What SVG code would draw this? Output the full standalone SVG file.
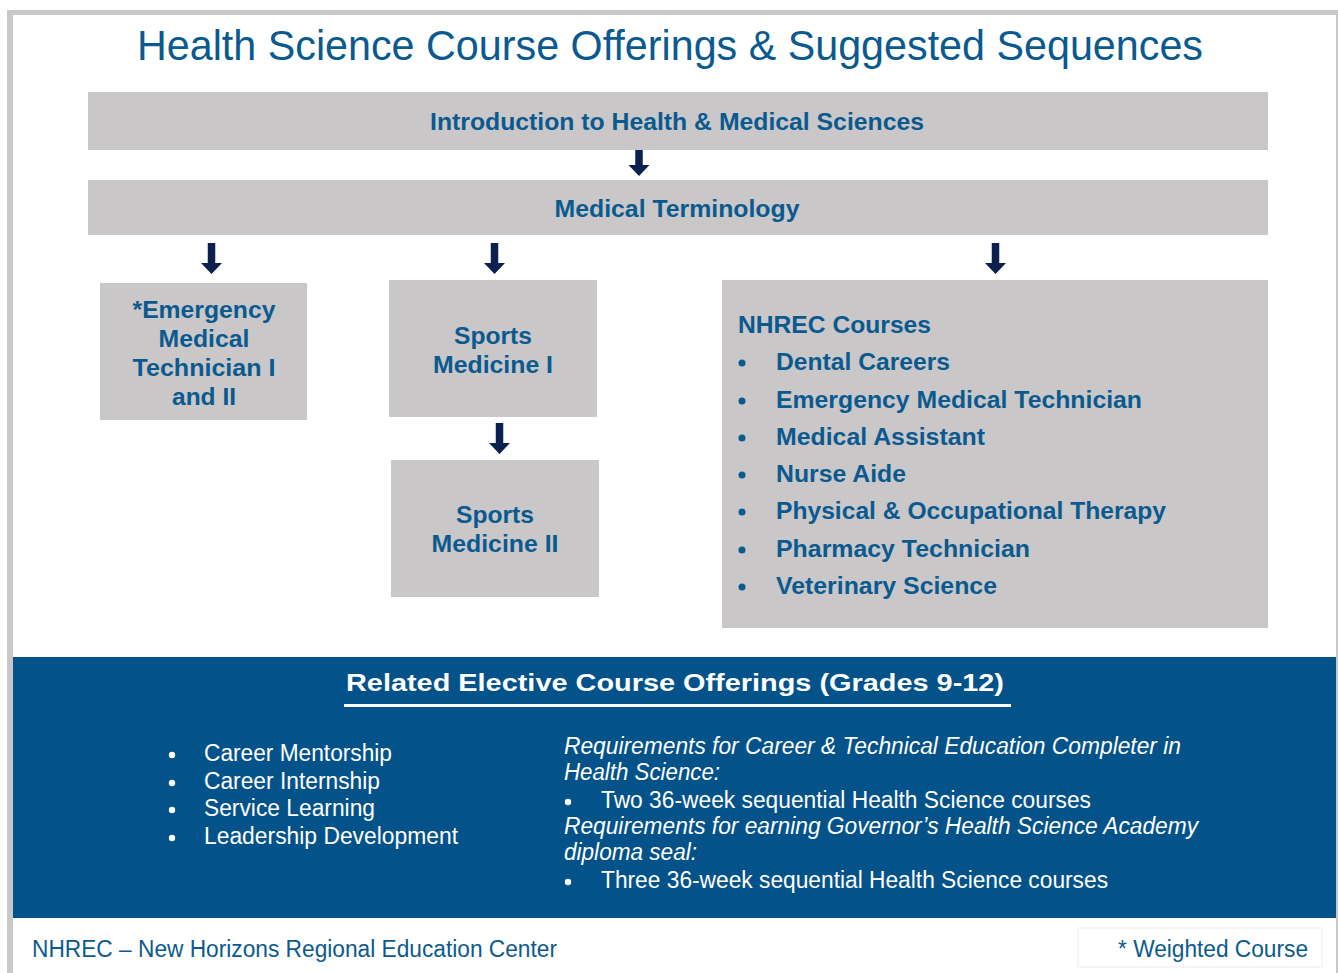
<svg xmlns="http://www.w3.org/2000/svg" width="1338" height="973" viewBox="0 0 1338 973">
<style>
.box{fill:#c9c7c8}
.t{font-family:"Liberation Sans",Arial,sans-serif;fill:#0b5a8f}
.b{font-weight:bold;font-size:23px}
.w{font-family:"Liberation Sans",Arial,sans-serif;fill:#ffffff;font-size:23px}
.arr{fill:#0c2050}
.bl{fill:#0b5a8f}
.bw{fill:#ffffff}
</style>
<defs>
<path id="arrow" class="arr" d="M-3.75,0 H3.75 V20 H10.5 L0,31 L-10.5,20 H-3.75 Z"/>
</defs>
<rect x="7" y="10" width="1331" height="963" fill="#c8c8c8"/>
<rect x="13" y="15" width="1323" height="958" fill="#ffffff"/>
<text class="t" x="670" y="60" font-size="42" text-anchor="middle" textLength="1066" lengthAdjust="spacingAndGlyphs">Health Science Course Offerings &amp; Suggested Sequences</text>

<g id="connectors">
<use href="#arrow" x="639" y="145"/>
<use href="#arrow" x="211.5" y="243"/>
<use href="#arrow" x="494.5" y="243"/>
<use href="#arrow" x="995.5" y="243"/>
<use href="#arrow" x="499.5" y="423"/>
</g>

<g id="intro">
<rect class="box" x="88" y="92" width="1180" height="58"/>
<text class="t b" x="677" y="130" text-anchor="middle" textLength="494" lengthAdjust="spacingAndGlyphs">Introduction to Health &amp; Medical Sciences</text>
</g>
<g id="medterm">
<rect class="box" x="88" y="180" width="1180" height="55"/>
<text class="t b" x="677" y="217" text-anchor="middle" textLength="245" lengthAdjust="spacingAndGlyphs">Medical Terminology</text>
</g>
<g id="emt">
<rect class="box" x="100" y="283" width="207" height="137"/>
<text class="t b" x="204" y="318" text-anchor="middle" textLength="143" lengthAdjust="spacingAndGlyphs">*Emergency</text>
<text class="t b" x="204" y="347" text-anchor="middle" textLength="91" lengthAdjust="spacingAndGlyphs">Medical</text>
<text class="t b" x="204" y="376" text-anchor="middle" textLength="143" lengthAdjust="spacingAndGlyphs">Technician I</text>
<text class="t b" x="204" y="405" text-anchor="middle" textLength="64" lengthAdjust="spacingAndGlyphs">and II</text>
</g>
<g id="sports1">
<rect class="box" x="389" y="280" width="208" height="137"/>
<text class="t b" x="493" y="344" text-anchor="middle" textLength="78" lengthAdjust="spacingAndGlyphs">Sports</text>
<text class="t b" x="493" y="373" text-anchor="middle" textLength="120" lengthAdjust="spacingAndGlyphs">Medicine I</text>
</g>
<g id="sports2">
<rect class="box" x="391" y="460" width="208" height="137"/>
<text class="t b" x="495" y="523" text-anchor="middle" textLength="78" lengthAdjust="spacingAndGlyphs">Sports</text>
<text class="t b" x="495" y="552" text-anchor="middle" textLength="127" lengthAdjust="spacingAndGlyphs">Medicine II</text>
</g>
<g id="nhrec">
<rect class="box" x="722" y="280" width="546" height="348"/>
<text class="t b" x="738" y="333" textLength="193" lengthAdjust="spacingAndGlyphs">NHREC Courses</text>
<circle class="bl" cx="742" cy="363" r="3.5"/>
<text class="t b" x="776" y="370" textLength="174" lengthAdjust="spacingAndGlyphs">Dental Careers</text>
<circle class="bl" cx="742" cy="401" r="3.5"/>
<text class="t b" x="776" y="408" textLength="366" lengthAdjust="spacingAndGlyphs">Emergency Medical Technician</text>
<circle class="bl" cx="742" cy="438" r="3.5"/>
<text class="t b" x="776" y="445" textLength="209" lengthAdjust="spacingAndGlyphs">Medical Assistant</text>
<circle class="bl" cx="742" cy="475" r="3.5"/>
<text class="t b" x="776" y="482" textLength="130" lengthAdjust="spacingAndGlyphs">Nurse Aide</text>
<circle class="bl" cx="742" cy="512" r="3.5"/>
<text class="t b" x="776" y="519" textLength="390" lengthAdjust="spacingAndGlyphs">Physical &amp; Occupational Therapy</text>
<circle class="bl" cx="742" cy="550" r="3.5"/>
<text class="t b" x="776" y="557" textLength="254" lengthAdjust="spacingAndGlyphs">Pharmacy Technician</text>
<circle class="bl" cx="742" cy="587" r="3.5"/>
<text class="t b" x="776" y="594" textLength="221" lengthAdjust="spacingAndGlyphs">Veterinary Science</text>
</g>

<g id="electives">
<rect x="13" y="657" width="1323" height="261" fill="#04528a"/>
<text class="w" x="675" y="691" font-size="27" font-weight="bold" text-anchor="middle" textLength="658" lengthAdjust="spacingAndGlyphs">Related Elective Course Offerings (Grades 9-12)</text>
<rect x="344" y="704" width="667" height="3" fill="#ffffff"/>
<circle class="bw" cx="172" cy="755" r="3.2"/>
<text class="w" x="204" y="761" textLength="188" lengthAdjust="spacingAndGlyphs">Career Mentorship</text>
<circle class="bw" cx="172" cy="783" r="3.2"/>
<text class="w" x="204" y="789" textLength="176" lengthAdjust="spacingAndGlyphs">Career Internship</text>
<circle class="bw" cx="172" cy="810" r="3.2"/>
<text class="w" x="204" y="816" textLength="171" lengthAdjust="spacingAndGlyphs">Service Learning</text>
<circle class="bw" cx="172" cy="838" r="3.2"/>
<text class="w" x="204" y="844" textLength="254" lengthAdjust="spacingAndGlyphs">Leadership Development</text>
<text class="w" x="564" y="754" font-style="italic" textLength="617" lengthAdjust="spacingAndGlyphs">Requirements for Career &amp; Technical Education Completer in</text>
<text class="w" x="564" y="780" font-style="italic" textLength="156" lengthAdjust="spacingAndGlyphs">Health Science:</text>
<circle class="bw" cx="568" cy="802" r="3.2"/>
<text class="w" x="601" y="808" textLength="490" lengthAdjust="spacingAndGlyphs">Two 36-week sequential Health Science courses</text>
<text class="w" x="564" y="834" font-style="italic" textLength="634" lengthAdjust="spacingAndGlyphs">Requirements for earning Governor’s Health Science Academy</text>
<text class="w" x="564" y="860" font-style="italic" textLength="133" lengthAdjust="spacingAndGlyphs">diploma seal:</text>
<circle class="bw" cx="568" cy="882" r="3.2"/>
<text class="w" x="601" y="888" textLength="507" lengthAdjust="spacingAndGlyphs">Three 36-week sequential Health Science courses</text>
</g>

<g id="footer">
<text class="t" x="32" y="957" font-size="23" textLength="525" lengthAdjust="spacingAndGlyphs">NHREC – New Horizons Regional Education Center</text>
</g>
<g id="weighted">
<rect x="1078" y="928" width="244" height="39" fill="#ffffff" stroke="#ececec" stroke-width="1"/>
<text class="t" x="1308" y="957" font-size="23" text-anchor="end" textLength="190" lengthAdjust="spacingAndGlyphs">* Weighted Course</text>
</g>
</svg>
